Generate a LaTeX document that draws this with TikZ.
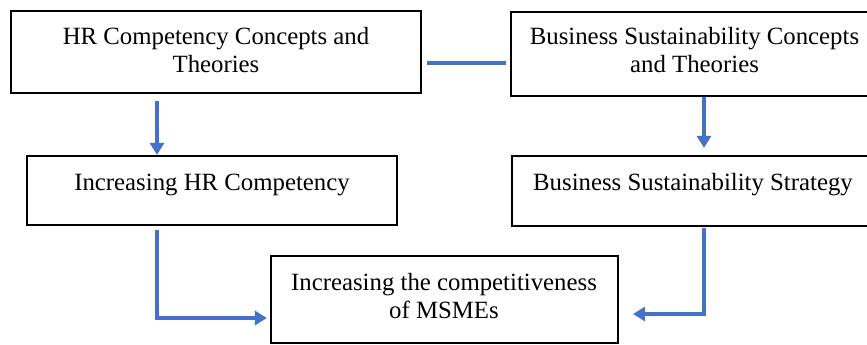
\documentclass[tikz,border=0pt]{standalone}
\usepackage{fontspec}
\setmainfont{Liberation Serif}
\usetikzlibrary{arrows.meta}
\definecolor{linkblue}{HTML}{4472C4}
\begin{document}
\begin{tikzpicture}[x=1pt,y=-1pt,
  box/.style={draw=black, line width=2.2pt, inner sep=0pt, rectangle},
  txt/.style={font=\fontsize{24.8}{28}\selectfont, inner sep=0pt, anchor=base},
  link/.style={draw=linkblue, line width=3.2pt},
  arrow/.style={link, -{Triangle[length=12pt,width=14pt]}}]
  \useasboundingbox (0,0) rectangle (867,345);
  \fill[white] (0,0) rectangle (867,345);
  \clip (0,0) rectangle (867,345);

  % boxes
  \node[box, minimum width=410pt, minimum height=82pt] (hrc) at (216,52) {};
  \node[box, minimum width=366pt, minimum height=84pt] (bsc) at (694,54) {};
  \node[box, minimum width=370pt, minimum height=69pt] (hri) at (212,190.5) {};
  \node[box, minimum width=364pt, minimum height=70pt] (bss) at (694,191) {};
  \node[box, minimum width=347pt, minimum height=87pt] (msme) at (444.5,299.5) {};

  % labels
  \node[txt] (hrcA) at (216,45) {HR Competency Concepts and};
  \node[txt] (hrcB) at (216,73) {Theories};
  \node[txt] (bscA) at (694.5,45) {Business Sustainability Concepts};
  \node[txt] (bscB) at (694.5,73) {and Theories};
  \node[txt] (hriT) at (212,190) {Increasing HR Competency};
  \node[txt] (bssT) at (693,190) {Business Sustainability Strategy};
  \node[txt] (msmeA) at (444,290) {Increasing the competitiveness};
  \node[txt] (msmeB) at (444,318) {of MSMEs};

  % connectors
  \draw[link, shorten <=5pt, shorten >=4pt] (hrc.east |- 0,63) -- (bsc.west |- 0,63);
  \draw[arrow, shorten <=7pt] (hrc.south -| 157,0) -- (hri.north -| 157,0);
  \draw[arrow, shorten <=4pt, shorten >=3pt] (hri.south -| 157,0) |- (msme.west |- 0,318);
  \draw[arrow] (bsc.south -| 704,0) -- ([yshift=7pt]bss.north -| 704,0);
  \draw[arrow, shorten <=1pt, shorten >=14pt] (bss.south -| 704,0) |- (msme.east |- 0,314);
\end{tikzpicture}
\end{document}
